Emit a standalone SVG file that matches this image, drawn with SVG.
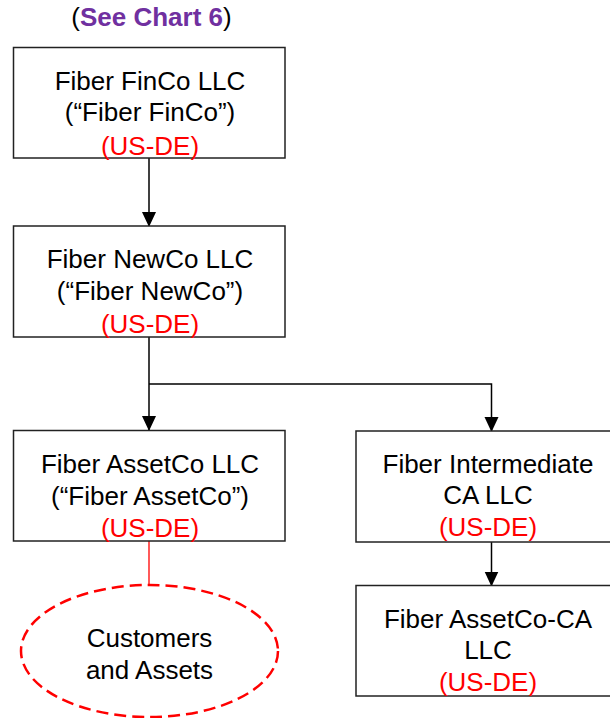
<svg xmlns="http://www.w3.org/2000/svg" width="610" height="718" viewBox="0 0 610 718">
<style>
.box{fill:#fff;stroke:#222;stroke-width:1.5}
.t{font-family:"Liberation Sans",Arial,sans-serif;font-size:26px;text-anchor:middle;fill:#000}
.r{fill:#ff0000}
.conn{fill:none;stroke:#000;stroke-width:1.5}
.title{font-family:"Liberation Sans",Arial,sans-serif;font-size:26px;text-anchor:middle;fill:#000}
</style>
<defs>
<marker id="arr" viewBox="0 0 14 15" refX="14" refY="7" markerWidth="14" markerHeight="15" markerUnits="userSpaceOnUse" orient="auto">
<path d="M0,0 L15,7 L0,14 Z" fill="#000"/>
</marker>
</defs>
<rect width="610" height="718" fill="#fff"/>
<text class="title" x="151.5" y="26">(<tspan font-weight="bold" fill="#7030A0">See Chart 6</tspan>)</text>
<g id="connectors">
<line class="conn" x1="149" y1="158" x2="149" y2="226" marker-end="url(#arr)"/>
<polyline class="conn" points="149,337 149,430" marker-end="url(#arr)"/>
<polyline class="conn" points="149,384 491.5,384 491.5,431" marker-end="url(#arr)"/>
<line class="conn" x1="491.5" y1="542" x2="491.5" y2="585.5" marker-end="url(#arr)"/>
<line x1="149" y1="541" x2="149" y2="585" stroke="#ff0000" stroke-width="1.3"/>
</g>
<g id="finco">
<rect class="box" x="13.5" y="47.5" width="271.5" height="110.5"/>
<text class="t" x="150" y="89.5">Fiber FinCo LLC</text>
<text class="t" x="150" y="121">(“Fiber FinCo”)</text>
<text class="t r" x="150" y="154.5">(US-DE)</text>
</g>
<g id="newco">
<rect class="box" x="13.5" y="226" width="271.5" height="111"/>
<text class="t" x="150" y="268">Fiber NewCo LLC</text>
<text class="t" x="150" y="300">(“Fiber NewCo”)</text>
<text class="t r" x="150" y="333">(US-DE)</text>
</g>
<g id="assetco">
<rect class="box" x="13.5" y="430.5" width="271.5" height="110.5"/>
<text class="t" x="150" y="473">Fiber AssetCo LLC</text>
<text class="t" x="150" y="505">(“Fiber AssetCo”)</text>
<text class="t r" x="150" y="537">(US-DE)</text>
</g>
<g id="intermediate">
<rect class="box" x="356" y="431" width="271.5" height="111"/>
<text class="t" x="488" y="473">Fiber Intermediate</text>
<text class="t" x="488" y="504">CA LLC</text>
<text class="t r" x="488" y="535.5">(US-DE)</text>
</g>
<g id="assetco-ca">
<rect class="box" x="356" y="585.5" width="271.5" height="110.5"/>
<text class="t" x="488" y="628">Fiber AssetCo-CA</text>
<text class="t" x="488" y="659">LLC</text>
<text class="t r" x="488" y="690.5">(US-DE)</text>
</g>
<g id="customers">
<ellipse cx="149.5" cy="651" rx="128.5" ry="66" fill="#fff" stroke="#ff0000" stroke-width="2.5" stroke-dasharray="12,6"/>
<text class="t" x="149.5" y="647">Customers</text>
<text class="t" x="149.5" y="678.5">and Assets</text>
</g>
</svg>
